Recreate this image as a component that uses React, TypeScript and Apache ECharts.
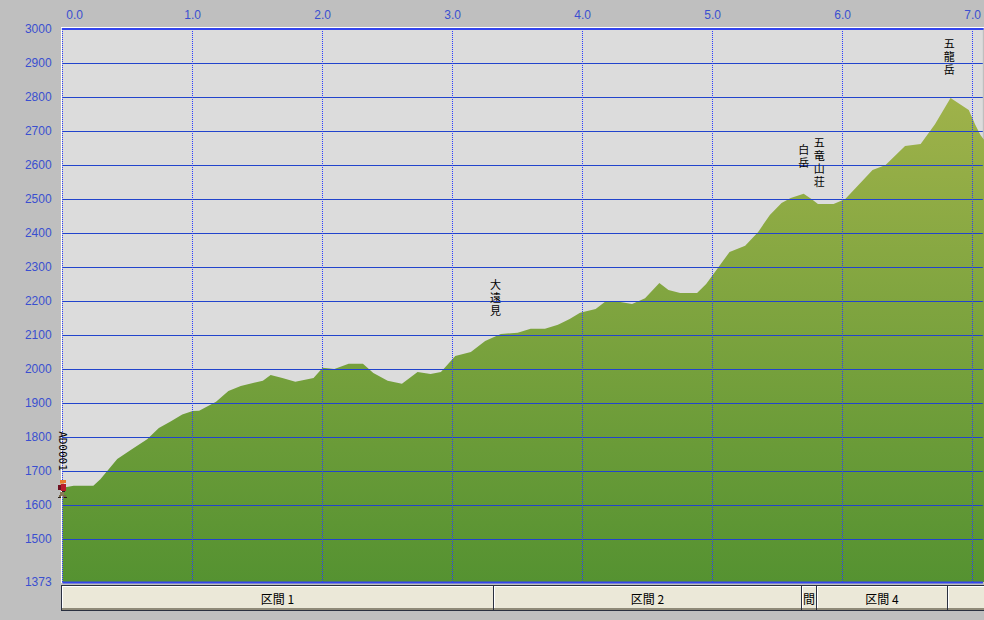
import React, { useEffect, useRef } from "react";
import * as echarts from "echarts";

const distances = [0, 0.085, 0.236, 0.29, 0.42, 0.535, 0.65, 0.74, 0.83, 0.92, 1.0, 1.05, 1.18, 1.275, 1.37, 1.54, 1.6, 1.69, 1.79, 1.93, 2.0, 2.09, 2.2, 2.31, 2.39, 2.5, 2.61, 2.73, 2.83, 2.91, 3.02, 3.14, 3.25, 3.37, 3.5, 3.6, 3.71, 3.81, 3.9, 3.98, 4.1, 4.17, 4.29, 4.38, 4.48, 4.59, 4.66, 4.75, 4.88, 4.95, 5.04, 5.13, 5.25, 5.35, 5.44, 5.53, 5.6, 5.7, 5.76, 5.81, 5.93, 6.02, 6.1, 6.23, 6.33, 6.48, 6.6, 6.71, 6.83, 6.97, 7.02, 7.06, 7.09];
const elevations = [1650, 1656, 1656, 1675, 1735, 1764, 1793, 1826, 1845, 1866, 1876, 1877, 1903, 1935, 1950, 1965, 1982, 1973, 1962, 1973, 2003, 2000, 2015, 2015, 1988, 1965, 1956, 1991, 1985, 1991, 2038, 2050, 2082, 2103, 2106, 2118, 2118, 2130, 2147, 2165, 2176, 2197, 2197, 2191, 2208, 2253, 2232, 2223, 2223, 2250, 2297, 2344, 2362, 2403, 2453, 2488, 2503, 2515, 2500, 2485, 2485, 2500, 2532, 2585, 2600, 2656, 2662, 2720, 2797, 2762, 2718, 2688, 2673];
const yTicks = [1373, 1500, 1600, 1700, 1800, 1900, 2000, 2100, 2200, 2300, 2400, 2500, 2600, 2700, 2800, 2900, 3000];
const xTicks = [0, 1, 2, 3, 4, 5, 6, 7];
const xMax = 7.078;
const yMin = 1373;
const yMax = 3000;

const placeNames = ["大遠見", "白岳", "五竜山荘", "五龍岳"];
const placeKm = [3.33, 5.7, 5.82, 6.82];
const placeElev = [2103, 2515, 2485, 2797];
const placeOffsets = [16, 24, 16, 21];

const sectionNames = ["区間 1", "区間 2", "間", "区間 4", ""];
const sectionEdges = [-0.005, 3.32, 5.688, 5.803, 6.81, 7.6];

const BLUE_TEXT = "#3a4fd0";
const LABEL_FONT = "'Noto Sans CJK JP', sans-serif";
const PLACE_FONT = "'Liberation Sans', 'Noto Sans CJK JP', sans-serif";

// hiker sprite: [dx, dy, w, h, colour], relative to the start point
const sprite: [number, number, number, number, string][] = [
  [-2, -8, 6, 3, "#e8792a"], [-2, -5, 4, 2, "#d9a070"], [-4, -3, 3, 5, "#6e1020"],
  [-1, -4, 5, 7, "#b81c2c"], [0, 3, 3, 1, "#2a2020"], [-2, 4, 4, 4, "#8a7a58"],
  [-3, 7, 2, 3, "#7a6a4a"], [1, 7, 3, 3, "#7a6a4a"], [-4, 9, 3, 1, "#2a2018"], [2, 9, 3, 1, "#2a2018"],
];

export default function App() {
  const ref = useRef<HTMLDivElement>(null);
  useEffect(() => {
    document.body.style.margin = "0";
    document.body.style.background = "#bfbfbf";
    const chart = echarts.init(ref.current!, undefined, { renderer: "svg" });
    const axisLabelBase = { color: BLUE_TEXT, fontFamily: "'Liberation Sans', sans-serif", fontSize: 12 };
    chart.setOption({
      animation: false,
      backgroundColor: "#bfbfbf",
      grid: { left: 62.65, top: 29, right: 0, bottom: 38, show: true, backgroundColor: "#dcdcdc", borderWidth: 0 },
      xAxis: {
        type: "value", position: "top", min: 0, max: xMax, z: 3,
        axisLine: { show: true, lineStyle: { color: "#3344ee", width: 2 } },
        axisTick: { show: false, customValues: xTicks },
        axisLabel: {
          ...axisLabelBase, margin: 8, customValues: xTicks,
          formatter: (v: number) => (v === 0 ? "{first|0.0}" : v.toFixed(1)),
          rich: { first: { ...axisLabelBase, padding: [0, 0, 0, 24] } },
        },
        splitLine: { show: true, lineStyle: { color: "#2a3cff", width: 1, type: [1, 1] } },
      },
      yAxis: {
        type: "value", min: yMin, max: yMax, z: 3,
        axisLine: { show: false },
        axisTick: { show: false, customValues: yTicks },
        axisLabel: { ...axisLabelBase, margin: 11, padding: [2, 0, 0, 0], customValues: yTicks, formatter: (v: number) => String(v) },
        splitLine: { show: true, lineStyle: { color: "#2244cc", width: 1 } },
      },
      graphic: [
        { type: "line", shape: { x1: 61.5, y1: 27, x2: 61.5, y2: 583 }, style: { stroke: "#ffffff", lineWidth: 1 }, z: 1 },
        { type: "line", shape: { x1: 61, y1: 27.5, x2: 984, y2: 27.5 }, style: { stroke: "#ffffff", lineWidth: 1 }, z: 1 },
      ],
      series: [
        {
          type: "line", z: 2, showSymbol: false, silent: true,
          data: distances.map((d, i) => [d, elevations[i]]),
          lineStyle: { width: 0 },
          areaStyle: {
            origin: "start", opacity: 1,
            color: new echarts.graphic.LinearGradient(0, 0, 0, 1, [
              { offset: 0, color: "#9fb24a" },
              { offset: 1, color: "#559231" },
            ]),
          },
        },
        {
          type: "custom", z: 5, silent: true, clip: false,
          data: sectionNames.map((n, i) => [sectionEdges[i], sectionEdges[i + 1], n]),
          encode: { x: [0, 1] },
          renderItem: (_p: any, api: any) => {
            const x1 = Math.round(api.coord([api.value(0), yMin])[0]) - 1;
            const x2 = Math.round(api.coord([api.value(1), yMin])[0]);
            const name = String(sectionNames[_p.dataIndex]);
            return {
              type: "group",
              children: [
                { type: "rect", shape: { x: x1, y: 585, width: x2 - x1 + 1, height: 26 }, style: { fill: "#2a3040" } },
                { type: "rect", shape: { x: x1 + 1, y: 586, width: x2 - x1 - 1, height: 24 }, style: { fill: "#8f8a78" } },
                { type: "rect", shape: { x: x1 + 1, y: 586, width: x2 - x1 - 2, height: 22 }, style: { fill: "#ffffff" } },
                { type: "rect", shape: { x: x1 + 2, y: 587, width: x2 - x1 - 3, height: 21 }, style: { fill: "#ebe8d8" } },
                { type: "text", style: { x: (x1 + x2) / 2, y: 598, text: name, align: "center", verticalAlign: "middle", fill: "#000", font: `12px ${LABEL_FONT}` } },
              ],
            };
          },
        },
        {
          type: "custom", z: 4, silent: true, clip: false,
          data: [[0, xMax]],
          encode: { x: [0, 1] },
          renderItem: (_p: any, api: any) => {
            const a = api.coord([api.value(0), yMin]);
            const b = api.coord([api.value(1), yMax]);
            return {
              type: "group",
              children: [
                { type: "line", shape: { x1: a[0], y1: a[1] + 0.5, x2: b[0], y2: a[1] + 0.5 }, style: { stroke: "#3344ee", lineWidth: 2 } },
              ],
            };
          },
        },
        {
          type: "custom", z: 6, silent: true, clip: false,
          data: placeNames.map((n, i) => [placeKm[i], placeElev[i], placeOffsets[i]]),
          encode: { x: 0, y: 1 },
          renderItem: (p: any, api: any) => {
            const c = api.coord([api.value(0), api.value(1)]);
            const name = placeNames[p.dataIndex];
            return {
              type: "text",
              style: {
                x: c[0], y: c[1] - api.value(2),
                text: name.split("").join("\n"),
                align: "center", verticalAlign: "bottom", lineHeight: 13,
                fill: "#000", font: `11px ${PLACE_FONT}`,
              },
            };
          },
        },
        {
          type: "custom", z: 6, silent: true, clip: false,
          data: [[distances[0], elevations[0]]],
          encode: { x: 0, y: 1 },
          renderItem: (_p: any, api: any) => {
            const c = api.coord([api.value(0), api.value(1)]);
            return {
              type: "group",
              children: [
                ...sprite.map(([dx, dy, w, h, col]) => ({
                  type: "rect",
                  shape: { x: Math.floor(c[0]) + dx, y: Math.round(c[1]) + dy, width: w, height: h },
                  style: { fill: col },
                })),
                {
                  type: "text", x: Math.floor(c[0]), y: 451, rotation: -Math.PI / 2,
                  style: { x: 0, y: 0, text: "AD0001", align: "center", verticalAlign: "middle", fill: "#000", font: "11px 'DejaVu Sans Mono', monospace" },
                },
              ],
            };
          },
        },
      ],
    });
    return () => chart.dispose();
  }, []);
  return <div ref={ref} style={{ position: "absolute", left: 0, top: 0, width: 984, height: 620 }} />;
}
